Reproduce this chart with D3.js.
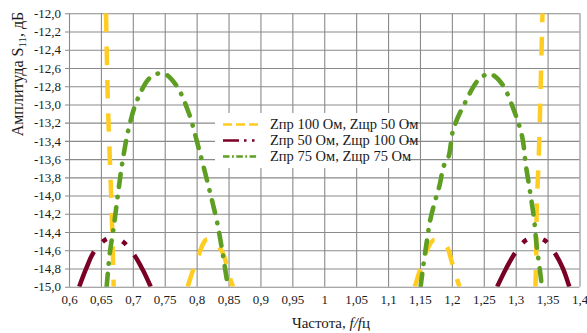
<!DOCTYPE html>
<html><head><meta charset="utf-8">
<script src="https://cdn.jsdelivr.net/npm/d3@7/dist/d3.min.js"></script>
<style>body{margin:0;background:#fff;} svg{display:block;} text{font-family:"Liberation Serif","Times New Roman",serif;fill:#1a1a1a;}</style>
</head><body>
<svg id="c" width="587" height="333"></svg>
<script>
// ---- data ----
const xTicks = [0.6,0.65,0.7,0.75,0.8,0.85,0.9,0.95,1,1.05,1.1,1.15,1.2,1.25,1.3,1.35,1.4];
const xTickLabels = ["0,6","0,65","0,7","0,75","0,8","0,85","0,9","0,95","1","1,05","1,1","1,15","1,2","1,25","1,3","1,35","1,4"];
const yTicks = [-12.0,-12.2,-12.4,-12.6,-12.8,-13.0,-13.2,-13.4,-13.6,-13.8,-14.0,-14.2,-14.4,-14.6,-14.8,-15.0];
const yTickLabels = ["-12,0","-12,2","-12,4","-12,6","-12,8","-13,0","-13,2","-13,4","-13,6","-13,8","-14,0","-14,2","-14,4","-14,6","-14,8","-15,0"];
const seriesNames = ["Zпр 100 Ом, Zщр 50 Ом","Zпр 50 Ом, Zщр 100 Ом","Zпр 75 Ом, Zщр 75 Ом"];

// series 1 (yellow): null separates drawn segments
const yellowF = [0.658,0.661,0.664,0.667,0.670, null, 0.786,0.800,0.816,0.828,0.841,0.852,0.857, null, 1.142,1.150,1.161,1.171,1.183,1.192,1.200,1.210,1.212, null, 1.342,1.339,1.336,1.333,1.332,1.331];
const yellowS = [-12.0,-13.0,-13.6,-14.2,-15.0, null, -15.0,-14.71,-14.48,-14.52,-14.63,-14.9,-15.0, null, -15.0,-14.82,-14.60,-14.49,-14.51,-14.56,-14.73,-14.96,-15.0, null, -12.0,-12.84,-13.61,-14.12,-14.71,-15.0];
// series 2 (dark red)
const redF = [0.616,0.627,0.638,0.656,0.670,0.685,0.703,0.716,0.728, null, 1.271,1.285,1.299,1.316,1.330,1.345,1.363,1.374,1.384];
const redS = [-15.0,-14.8,-14.63,-14.49,-14.46,-14.51,-14.66,-14.82,-15.0, null, -15.0,-14.8,-14.63,-14.49,-14.46,-14.49,-14.65,-14.8,-15.0];
// series 3 (green)
const greenF = [0.659,0.664,0.670,0.677,0.684,0.694,0.707,0.728,0.748,0.768,0.787,0.804,0.824,0.832,0.840,0.849, null, 1.151,1.155,1.161,1.166,1.174,1.181,1.187,1.195,1.202,1.220,1.243,1.260,1.278,1.297,1.310,1.316,1.323,1.329,1.333,1.338,1.341];
const greenS = [-15.0,-14.63,-14.35,-13.97,-13.62,-13.25,-12.95,-12.70,-12.66,-12.79,-13.08,-13.5,-14.05,-14.29,-14.6,-15.0, null, -15.0,-14.78,-14.49,-14.27,-14.05,-13.88,-13.68,-13.57,-13.28,-12.99,-12.72,-12.667,-12.77,-13.06,-13.35,-13.67,-13.98,-14.27,-14.56,-14.82,-15.0];

// ---- styles ----
const styles = [
  {color:"#FFCC22", width:4.5, dash:"18.5,14.8", cap:"butt", offsets:[0,0,0,9.5], legendDash:"9,4", legendCap:"butt"},
  {color:"#7A0026", width:4.5, dash:"38,13,5,17,5,13", cap:"butt", offsets:[0,0], legendDash:"16,5,2.5,5.5,2.5,5.5,2.5,100", legendCap:"butt"},
  {color:"#5E9E22", width:4.6, dash:"13,10,0.5,10", cap:"round", offsets:[0,0], legendDash:"6.5,2.5,1.8,2.5", legendCap:"butt"}
];

const svg = d3.select("#c");
const L = 69, R = 579.5, T = 13.3, B = 286.7;
const x = d3.scaleLinear().domain([0.6,1.4]).range([L,R]);
const y = d3.scaleLinear().domain([-15,-12]).range([B,T]);

// grid + y labels
const gy = svg.append("g").attr("transform",`translate(${R},0)`)
  .call(d3.axisLeft(y).tickValues(yTicks).tickSize(R-L+4).tickPadding(4).tickFormat((d,i)=>yTickLabels[i]));
gy.select(".domain").remove();
gy.selectAll("line").attr("stroke","#8a8a8a").attr("stroke-width",1.1);
gy.selectAll("text").attr("font-size",13).attr("font-family","Liberation Serif").attr("fill","#1a1a1a");

const gx = svg.append("g").attr("transform",`translate(0,${T})`)
  .call(d3.axisBottom(x).tickValues(xTicks).tickSize(B-T).tickPadding(8.5).tickFormat((d,i)=>xTickLabels[i]));
gx.select(".domain").remove();
gx.selectAll("line").attr("stroke","#8a8a8a").attr("stroke-width",1.1);
gx.selectAll("text").attr("font-size",13).attr("font-family","Liberation Serif").attr("fill","#1a1a1a");

// clip
svg.append("clipPath").attr("id","clip").append("rect").attr("x",L).attr("y",T).attr("width",R-L).attr("height",B-T);

function segments(F,S){
  const segs=[]; let cur=[];
  F.forEach((f,i)=>{ if(f===null){ if(cur.length) segs.push(cur); cur=[]; } else cur.push([f,S[i]]); });
  if(cur.length) segs.push(cur);
  return segs;
}
const line = d3.line().x(d=>x(d[0])).y(d=>y(d[1])).curve(d3.curveCatmullRom.alpha(0.5));
const plot = svg.append("g").attr("clip-path","url(#clip)");
[[yellowF,yellowS],[redF,redS],[greenF,greenS]].forEach(([F,S],k)=>{
  const st = styles[k];
  segments(F,S).forEach((seg,j)=>{
    plot.append("path").attr("d",line(seg)).attr("fill","none")
      .attr("stroke",st.color).attr("stroke-width",st.width)
      .attr("stroke-dasharray",st.dash).attr("stroke-dashoffset",st.offsets[j]||0)
      .attr("stroke-linecap",st.cap);
  });
});

// legend
const lg = svg.append("g");
lg.append("rect").attr("x",215).attr("y",113).attr("width",191).attr("height",55).attr("fill","#fff");
seriesNames.forEach((name,i)=>{
  const cy = 124.5 + i*16;
  const st = styles[i];
  lg.append("line").attr("x1",223).attr("x2", i===1?260:258).attr("y1",cy).attr("y2",cy)
    .attr("stroke",st.color).attr("stroke-width",2.6).attr("stroke-dasharray",st.legendDash).attr("stroke-linecap",st.legendCap);
  lg.append("text").attr("x",270).attr("y",cy+4.8).attr("font-size",14.5).text(name);
});

// axis titles
const xt = svg.append("text").attr("x",331).attr("y",328).attr("text-anchor","middle").attr("font-size",15);
xt.append("tspan").text("Частота, ");
xt.append("tspan").attr("font-style","italic").text("f/f");
xt.append("tspan").text("ц");

const yt = svg.append("text").attr("transform","translate(23,74) rotate(-90)").attr("text-anchor","middle").attr("font-size",16);
yt.append("tspan").text("Амплитуда S");
yt.append("tspan").attr("font-size",11).attr("dy",3).text("11");
yt.append("tspan").attr("dy",-3).text(", дБ");
</script>
</body></html>
